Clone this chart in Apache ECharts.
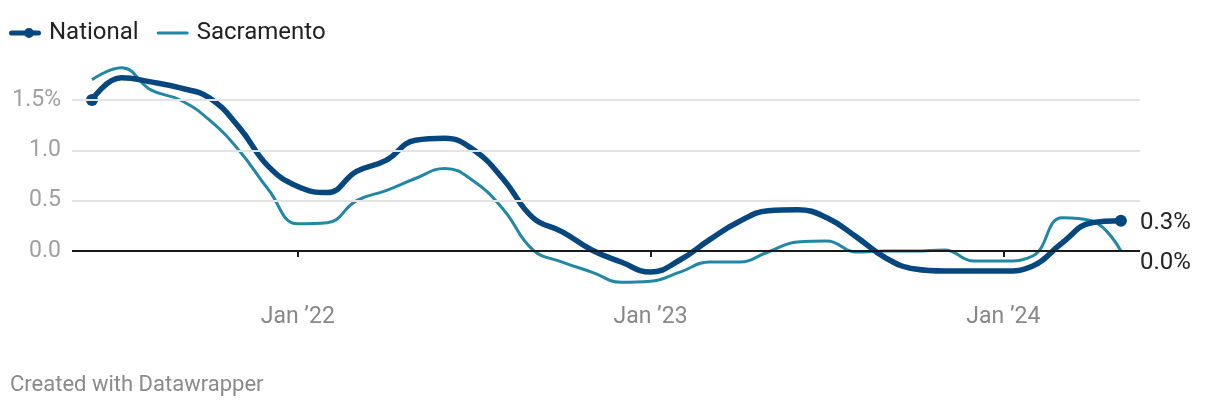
<!DOCTYPE html>
<html>
<head>
<meta charset="utf-8">
<script src="https://cdn.jsdelivr.net/npm/echarts@6/dist/echarts.min.js"></script>
<style>
  html, body { margin: 0; padding: 0; background: #fff; }
  #chart { width: 1220px; height: 410px; }
</style>
</head>
<body>
<div id="chart"></div>
<script>
// Months from Jun 2021 (index 0) to May 2024 (index 35)
const months = ["2021-06","2021-07","2021-08","2021-09","2021-10","2021-11","2021-12",
  "2022-01","2022-02","2022-03","2022-04","2022-05","2022-06","2022-07","2022-08","2022-09","2022-10","2022-11","2022-12",
  "2023-01","2023-02","2023-03","2023-04","2023-05","2023-06","2023-07","2023-08","2023-09","2023-10","2023-11","2023-12",
  "2024-01","2024-02","2024-03","2024-04","2024-05"];
const national = [1.50,1.72,1.68,1.62,1.52,1.23,0.84,0.64,0.58,0.79,0.90,1.10,1.12,1.00,0.71,0.33,0.19,0.01,-0.11,-0.21,-0.09,0.11,0.29,0.40,0.41,0.33,0.14,-0.07,-0.18,-0.20,-0.20,-0.20,-0.15,0.08,0.28,0.30];
const sacramento = [1.70,1.82,1.60,1.50,1.30,1.00,0.61,0.27,0.28,0.50,0.60,0.72,0.82,0.69,0.41,0.01,-0.11,-0.21,-0.31,-0.30,-0.21,-0.11,-0.11,-0.01,0.09,0.10,-0.01,0.00,0.00,0.01,-0.10,-0.10,-0.05,0.33,0.30,0.00];
const xTickIndex = [7, 19, 31];
const xTickLabels = ["Jan \u201922", "Jan \u201923", "Jan \u201924"];
const yTicks = [0, 0.5, 1.0, 1.5];
const gridValues = [0.5, 1.0, 1.5];

const FONT = 'Roboto, "Noto Sans", sans-serif';
const natColor = '#06477f';
const sacColor = '#2187a6';

const natData = national.map((v, i) => [i, v]);
const sacData = sacramento.map((v, i) => [i, v]);
const last = national.length - 1;

// legend icons (box 32x14): thick bar with dot, thin bar
const natIcon = 'path://M0,0L0,0M32,14L32,14M2.5,4.5L29.5,4.5A2.5,2.5,0,0,1,29.5,9.5L2.5,9.5A2.5,2.5,0,0,1,2.5,4.5ZM25,7A5,5,0,1,1,15,7A5,5,0,1,1,25,7Z';
const sacIcon = 'path://M0,0L0,0M32,14L32,14M1.5,5.5L30.5,5.5A1.5,1.5,0,0,1,30.5,8.5L1.5,8.5A1.5,1.5,0,0,1,1.5,5.5Z';

const chart = echarts.init(document.getElementById('chart'), null, { renderer: 'canvas' });
chart.setOption({
  animation: false,
  textStyle: { fontFamily: FONT },
  legend: {
    left: 4, top: 16,
    itemWidth: 32, itemHeight: 14, itemGap: 18,
    textStyle: { fontFamily: FONT, fontSize: 24, color: '#222', padding: [0, 0, 0, 3] },
    data: [
      { name: 'National', icon: natIcon, itemStyle: { color: natColor } },
      { name: 'Sacramento', icon: sacIcon, itemStyle: { color: sacColor } }
    ]
  },
  graphic: [{
    type: 'text', left: 10, top: 374,
    style: { text: 'Created with Datawrapper', fontFamily: FONT, fontSize: 22, fill: '#8a8a8a' }
  }],
  grid: { left: 72, right: 80, top: 59.7, bottom: 123.8, containLabel: false },
  xAxis: {
    type: 'value',
    min: -0.68, max: 35.65,
    axisLine: { show: false },
    splitLine: { show: false },
    axisTick: { show: true, customValues: xTickIndex, length: 6, lineStyle: { color: '#1d1d1d', width: 2 } },
    axisLabel: {
      customValues: xTickIndex,
      margin: 20,
      fontFamily: FONT, fontSize: 23, color: '#888',
      formatter: v => xTickLabels[xTickIndex.indexOf(Math.round(v))] || ''
    }
  },
  yAxis: {
    type: 'value',
    min: -0.35, max: 1.9,
    axisLine: { show: false },
    axisTick: { show: false },
    splitLine: { show: false },
    axisLabel: {
      customValues: yTicks,
      margin: 11,
      fontFamily: FONT, fontSize: 23, color: '#a0a0a0',
      formatter: v => (Math.abs(v - 1.5) < 1e-9 ? '1.5%' : v.toFixed(1))
    }
  },
  series: [
    {
      name: 'Sacramento',
      type: 'line',
      data: sacData,
      smooth: 0.45,
      symbol: 'none',
      lineStyle: { color: sacColor, width: 3 },
      itemStyle: { color: sacColor },
      z: 3,
      endLabel: {
        show: true, distance: 19, offset: [0, 12],
        formatter: p => p.value[1].toFixed(1) + '%',
        fontFamily: FONT, fontSize: 24, color: '#222'
      },
      markLine: {
        silent: true, symbol: 'none', label: { show: false }, animation: false,
        data: gridValues.map(v => ({ yAxis: v, lineStyle: { color: '#e3e3e3', width: 2, type: 'solid' } }))
          .concat([{ yAxis: 0, lineStyle: { color: '#1a1a1a', width: 2, type: 'solid' } }])
      }
    },
    {
      name: 'National',
      type: 'line',
      data: natData,
      smooth: 0.45,
      symbol: 'circle',
      showSymbol: true,
      symbolSize: (val, params) => (params.dataIndex === 0 || params.dataIndex === last) ? 12 : 0,
      lineStyle: { color: natColor, width: 5.5 },
      itemStyle: { color: natColor },
      z: 4,
      endLabel: {
        show: true, distance: 19, offset: [0, 2],
        formatter: p => p.value[1].toFixed(1) + '%',
        fontFamily: FONT, fontSize: 24, color: '#222'
      }
    }
  ]
});
</script>
</body>
</html>
